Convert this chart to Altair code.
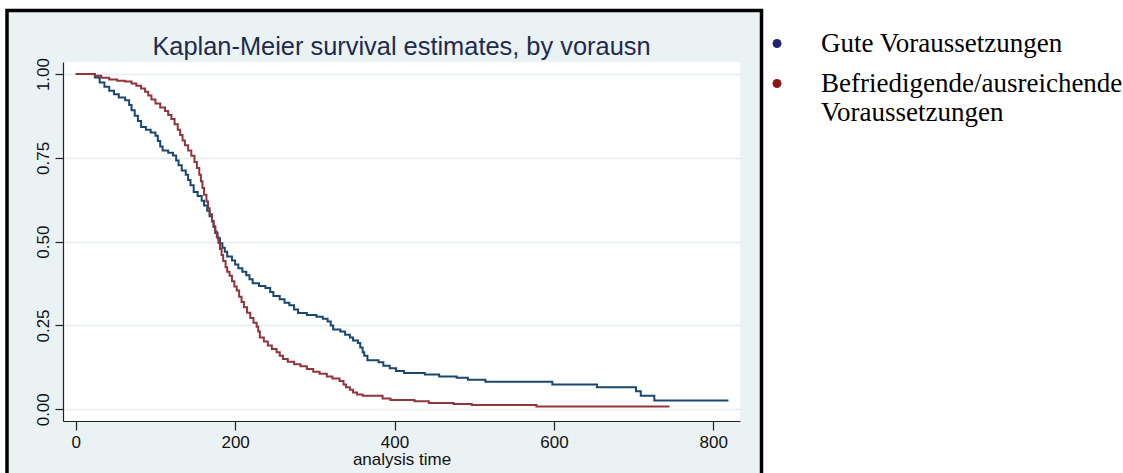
import altair as alt
import pandas as pd

# Kaplan-Meier survival estimates by "vorausn" (two groups)
group_names = ["Gute Voraussetzungen", "Befriedigende/ausreichende Voraussetzungen"]
legend_lines = {
    "Befriedigende/ausreichende Voraussetzungen": ["Befriedigende/ausreichende", "Voraussetzungen"],
}

gute_time = [0, 24, 30, 36, 42, 48, 54, 62, 67, 70, 74, 78, 82, 88, 94, 100, 103, 106,
             109, 116, 122, 126, 129, 133, 138, 141, 144, 148, 153, 158, 161, 165, 168,
             171, 173, 175, 178, 181, 184, 187, 190, 196, 200, 204, 209, 214, 218, 222,
             230, 238, 244, 248, 256, 262, 268, 274, 279, 290, 302, 310, 316, 320, 323,
             332, 338, 344, 348, 354, 357, 360, 362, 366, 380, 386, 394, 402, 412, 438,
             456, 478, 492, 514, 598, 654, 703, 709, 726, 819]
gute_surv = [1.000, 0.990, 0.975, 0.962, 0.950, 0.940, 0.930, 0.922, 0.908, 0.892, 0.876,
             0.860, 0.842, 0.834, 0.826, 0.816, 0.800, 0.784, 0.772, 0.765, 0.757, 0.742,
             0.728, 0.712, 0.700, 0.684, 0.668, 0.648, 0.636, 0.622, 0.608, 0.592, 0.576,
             0.560, 0.544, 0.526, 0.510, 0.495, 0.482, 0.470, 0.456, 0.444, 0.432, 0.421,
             0.410, 0.400, 0.388, 0.376, 0.368, 0.362, 0.350, 0.338, 0.328, 0.318, 0.310,
             0.298, 0.287, 0.281, 0.276, 0.270, 0.262, 0.250, 0.238, 0.232, 0.222, 0.214,
             0.205, 0.198, 0.184, 0.170, 0.160, 0.146, 0.140, 0.130, 0.122, 0.114, 0.108,
             0.104, 0.098, 0.094, 0.088, 0.082, 0.074, 0.066, 0.054, 0.040, 0.026, 0.026]

befr_time = [0, 24, 32, 42, 52, 62, 70, 76, 82, 87, 91, 95, 100, 106, 112, 116, 120, 124,
             128, 131, 134, 137, 141, 145, 149, 152, 155, 157, 159, 161, 164, 166, 168,
             171, 173, 175, 177, 179, 181, 183, 185, 188, 190, 193, 196, 199, 202, 205,
             208, 211, 215, 219, 223, 227, 229, 231, 236, 241, 246, 252, 256, 260, 266,
             274, 282, 290, 298, 306, 315, 322, 331, 336, 339, 344, 348, 353, 360, 385,
             395, 425, 443, 474, 497, 578, 745]
befr_surv = [1.000, 0.995, 0.989, 0.984, 0.980, 0.978, 0.972, 0.965, 0.957, 0.947, 0.936,
             0.924, 0.912, 0.900, 0.890, 0.878, 0.866, 0.850, 0.834, 0.818, 0.802, 0.788,
             0.772, 0.756, 0.738, 0.720, 0.700, 0.680, 0.660, 0.640, 0.620, 0.600, 0.582,
             0.562, 0.546, 0.530, 0.514, 0.496, 0.478, 0.460, 0.442, 0.424, 0.410, 0.398,
             0.382, 0.366, 0.354, 0.336, 0.320, 0.304, 0.288, 0.272, 0.258, 0.246, 0.232,
             0.214, 0.202, 0.190, 0.180, 0.170, 0.160, 0.150, 0.142, 0.134, 0.128, 0.120,
             0.112, 0.106, 0.098, 0.092, 0.084, 0.074, 0.066, 0.058, 0.050, 0.044, 0.040,
             0.032, 0.028, 0.024, 0.019, 0.016, 0.013, 0.008, 0.008]

x_ticks = [0, 200, 400, 600, 800]
y_ticks = [0, 0.25, 0.5, 0.75, 1.0]

line_colors = ["#1a476f", "#90353b"]
dot_colors = ["#22226e", "#8b1818"]

W, H = 677, 359
PAD = {"left": 63, "top": 62, "right": 383, "bottom": 52}

df = pd.concat([
    pd.DataFrame({"group": group_names[0], "time": gute_time, "surv": gute_surv}),
    pd.DataFrame({"group": group_names[1], "time": befr_time, "surv": befr_surv}),
], ignore_index=True)

x_enc = alt.X(
    "time:Q",
    scale=alt.Scale(domain=[-16, 833.5], nice=False, zero=False),
    axis=alt.Axis(values=x_ticks, title="analysis time", labelFontSize=17,
                  titleFontSize=17, titleFontWeight="normal", tickSize=9,
                  labelPadding=4, titlePadding=1, grid=False),
)
y_enc = alt.Y(
    "surv:Q",
    scale=alt.Scale(domain=[-0.035, 1.036], nice=False, zero=False),
    axis=alt.Axis(values=y_ticks, format=".2f", title=None, labelFontSize=17,
                  labelAngle=270, labelAlign="center", labelBaseline="bottom",
                  tickSize=8, labelPadding=3, grid=True, gridColor="#e4ecef",
                  gridWidth=1.5),
)

curves = alt.Chart(df).mark_line(interpolate="step-after", strokeWidth=2, clip=True).encode(
    x=x_enc,
    y=y_enc,
    color=alt.Color("group:N", scale=alt.Scale(domain=group_names, range=line_colors),
                    legend=None),
)

label_expr = " : ".join(
    [f"datum.label == '{k}' ? {v!r}" for k, v in legend_lines.items()] + ["datum.label"]
)

# invisible points that carry the group legend
legend_carrier = alt.Chart(df).mark_point(filled=True, opacity=0).encode(
    x="time:Q",
    y="surv:Q",
    color=alt.Color(
        "group:N",
        scale=alt.Scale(domain=group_names, range=dot_colors),
        legend=alt.Legend(
            title=None, orient="none", legendX=700.5, legendY=-32,
            symbolType="circle", symbolSize=80, symbolStrokeWidth=0,
            symbolOpacity=1, labelFont="Liberation Serif", labelFontSize=27,
            labelColor="#000000", labelLimit=0, labelOffset=30.5,
            rowPadding=12, padding=0, labelExpr=label_expr,
        ),
    ),
)

# outer graph frame: white margins outside, black border
one = pd.DataFrame({"k": [0]})
white_left = alt.Chart(one).mark_rect(color="white").encode(
    x=alt.value(-63), x2=alt.value(-56), y=alt.value(-62), y2=alt.value(420))
white_top = alt.Chart(one).mark_rect(color="white").encode(
    x=alt.value(-63), x2=alt.value(1060), y=alt.value(-62), y2=alt.value(-51.5))
white_right = alt.Chart(one).mark_rect(color="white").encode(
    x=alt.value(698.5), x2=alt.value(1060), y=alt.value(-62), y2=alt.value(420))
border = alt.Chart(one).mark_rect(fillOpacity=0, stroke="black", strokeWidth=3.5).encode(
    x=alt.value(-56), x2=alt.value(698.5), y=alt.value(-51.5), y2=alt.value(430))

chart = alt.layer(
    curves, legend_carrier, white_left, white_top, white_right, border
).resolve_scale(
    color="independent"
).properties(
    width=W,
    height=H,
    padding=PAD,
    autosize=alt.AutoSizeParams(type="none"),
    title=alt.TitleParams(
        "Kaplan-Meier survival estimates, by vorausn",
        font="Liberation Sans", fontSize=25.4, fontWeight="normal", color="#1e2b4d",
        anchor="middle", frame="group", baseline="alphabetic", offset=-80,
    ),
).configure(
    background="#eaf2f3",
    font="Liberation Sans",
).configure_view(
    fill="white", stroke=None,
).configure_axis(
    labelColor="#111111", titleColor="#111111", domainColor="#222222",
    tickColor="#222222", labelFont="Liberation Sans", titleFont="Liberation Sans",
    domainWidth=1.2, tickWidth=1.2,
)

chart.save("out.html", embed_options={"renderer": "svg", "actions": False})
